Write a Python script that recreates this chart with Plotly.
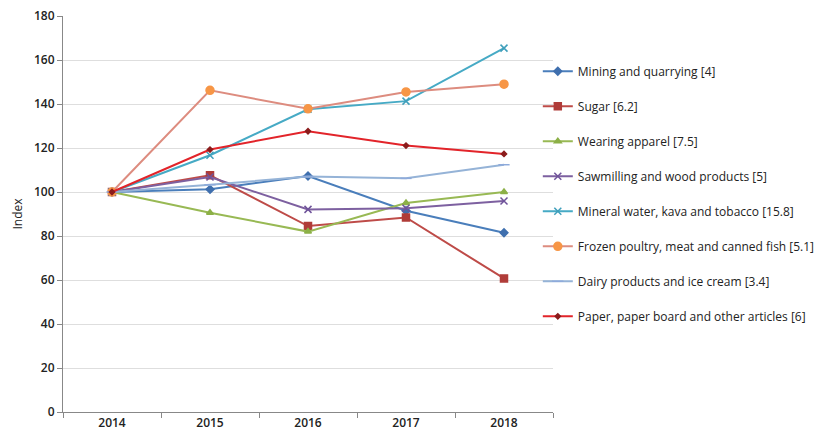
import plotly.graph_objects as go

years = ["2014", "2015", "2016", "2017", "2018"]

mining = [100, 101.2, 107.3, 91.5, 81.5]
sugar = [100, 107.6, 84.5, 88.4, 60.7]
wearing = [100, 90.6, 82.0, 95.0, 100.0]
sawmilling = [100, 106.8, 92.1, 92.6, 95.9]
mineral = [100, 116.7, 137.6, 141.3, 165.4]
frozen = [100, 146.2, 137.8, 145.5, 149.0]
dairy = [100, 103.3, 107.0, 106.2, 112.4]
paper = [100, 119.3, 127.6, 121.1, 117.3]

names = [
    "Mining and quarrying [4]",
    "Sugar [6.2]",
    "Wearing apparel [7.5]",
    "Sawmilling and wood products [5]",
    "Mineral water, kava and tobacco [15.8]",
    "Frozen poultry, meat and canned fish [5.1]",
    "Dairy products and ice cream [3.4]",
    "Paper, paper board and other articles [6]",
]
series = [mining, sugar, wearing, sawmilling, mineral, frozen, dairy, paper]

line_colors = ["#4a7ebb", "#be4b48", "#98b954", "#7d60a0", "#46aac5", "#dd8c7f", "#95b3d7", "#e2242a"]
marker_colors = ["#3f6fae", "#b03c39", "#8cb047", "#6f539a", "#3f9fbb", "#f79646", "#8eaadb", "#8b1c1c"]
symbols = ["diamond", "square", "triangle-up", "x-thin-open", "x-thin-open", "circle", "line-ew-open", "diamond"]
sizes = [6, 7, 6, 7, 7, 8, 8, 4]

fig = go.Figure()
for i, (nm, vals) in enumerate(zip(names, series)):
    fig.add_trace(go.Scatter(
        x=years, y=vals, name=nm, mode="lines+markers",
        legendgroup=f"g{i}",
        line=dict(color=line_colors[i], width=2),
        marker=dict(symbol=symbols[i], size=sizes[i], color=marker_colors[i],
                    line=dict(color=marker_colors[i], width=1.5)),
    ))

fig.update_layout(
    width=832, height=430,
    margin=dict(l=55, r=287, t=8, b=26, autoexpand=False),
    plot_bgcolor="white", paper_bgcolor="white",
    font=dict(family="Open Sans", size=12, color="#333333"),
    showlegend=True,
    legend=dict(x=0.969, xanchor="left", y=0.897, yanchor="top",
                font=dict(size=12, color="#222222"),
                tracegroupgap=16, itemwidth=30, bgcolor="rgba(0,0,0,0)"),
    xaxis=dict(type="category", range=[-0.5, 4.5], showgrid=False, showline=True,
               linecolor="#888888", automargin=False,
               ticks="outside", tickson="boundaries", ticklen=5, tickcolor="#888888",
               ticklabeloverflow="allow",
               tickfont=dict(size=12, color="#222222", weight=600)),
    yaxis=dict(range=[0, 180], dtick=20, showgrid=True, gridcolor="#dedede",
               showline=True, linecolor="#888888", ticks="outside", ticklen=5,
               tickcolor="#888888", zeroline=False, automargin=False,
               ticklabeloverflow="allow",
               tickfont=dict(size=12, color="#222222", weight=600),
               title=dict(text="Index", font=dict(size=12, color="#222222"), standoff=8)),
)

fig.write_html("out.html")
